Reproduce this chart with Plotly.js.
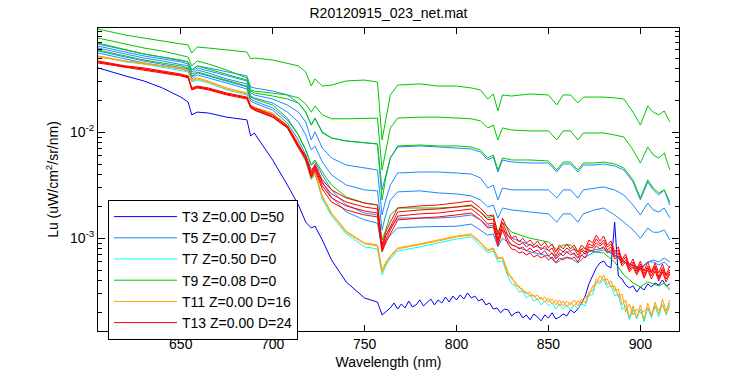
<!DOCTYPE html>
<html><head><meta charset="utf-8">
<script src="https://cdn.plot.ly/plotly-3.0.1.min.js"></script>
<style>html,body{margin:0;padding:0;background:#fff}#chart{width:750px;height:375px}</style>
</head><body><div id="chart"></div>
<script>
// Wavelength grids (nm)
const wavelength = [605,612,620,630,640,650,654,656,659,665,675,686,688,690,700,708,714,718,721,723,727,732,740,750,757,759.5,761.5,764,768,780,790,800,808,813,817,820,822.5,825,830,840,850,854.5,858,862,866,869,875,880,886,891,896,900,904,907,910,913,916];
const wavelengthNoisy = [605,612,620,630,640,650,654,656,659,665,675,686,688,690,700,708,714,718,721,723,727,732,740,750,757,759.5,761.5,764,768,780,790,800,808,813,817,820,822.5,825,828,830,832,834,836,838,840,842,844,846,848,850,852,854,856,858,860,862,864,866,868,870,872,874,876,878,880,882,884,886,888,890,892,894,896,898,900,902,904,906,908,910,912,914,916];
const wavelengthT3 = [605,612,620,630,640,650,654,656,659,665,675,686,688,690,700,708,714,718,721,723,727,732,740,750,757,759.5,761.5,764,766,768,770,772,774,776,778,780,782,784,786,788,790,792,794,796,798,800,802,804,806,808,810,812,814,816,818,820,822,824,826,828,830,832,834,836,838,840,842,844,846,848,850,852,854,856,858,860,862,864,866,868,870,872,874,876,878,880,882,884,886,888,890,892,894,896,898,900,902,904,906,908,910,912,914,916];

// T3 (dark blue)
const t3_a = [0.0405,0.0371,0.0340,0.0305,0.0262,0.0215,0.0193,0.0146,0.0155,0.0152,0.0139,0.0131,0.00923,0.00985,0.00548,0.00318,0.00206,0.00142,0.00125,0.00130,0.000964,0.000624,0.000387,0.000273,0.000250,0.000189,0.000202,0.000220,
0.000245,0.000215,0.000240,0.000220,0.000256,0.000225,0.000235,0.000262,0.000230,0.000250,0.000267,0.000235,0.000262,0.000245,0.000279,0.000250,0.000285,0.000262,0.000292,0.000267,0.000305,0.000273,0.000285,0.000256,0.000267,0.000235,0.000245,0.000215,0.000220,0.000198,0.000215,
0.000211,0.000185,0.000198,0.000202,0.000177,0.000189,0.000170,0.000193,0.000181,0.000166,0.000189,0.000177,0.000198,0.000173,0.000181,0.000193,0.000185,0.000211,0.000198,0.000215,0.000245,0.000285,0.000371,0.000441,0.000525,0.000585,0.000610,0.000548,0.000525,0.00142,0.000441,0.000413,0.000362,0.000340,0.000355,0.000311,0.000347,0.000325,0.000371,0.000347,0.000379,0.000362,0.000404,0.000355,0.000371];

// T5 (light blue)
const t5_a = [0.0680,0.0637,0.0598,0.0548,0.0513,0.0481,0.0461,0.0387,0.0423,0.0405,0.0371,0.0340,0.0268,0.0262,0.0245,0.0225,0.0189,0.0155,0.0117,0.0136,0.0101,0.00884,0.00828,0.00793,0.00776,0.00286,0.00396,0.00572,0.00727,0.00743,0.00727,0.00711,0.00696,0.00652,0.00548,0.00585,0.00422,0.00548,0.00524,0.00513,0.00513,0.00422,0.00502,0.00502,0.00422,0.00491,0.00491,0.00502,0.00481,0.00441,0.00340,0.00230,0.00340,0.00286,0.00256,0.00286,0.00206];
const t5_b = [0.0651,0.0610,0.0572,0.0525,0.0492,0.0461,0.0441,0.0371,0.0405,0.0379,0.0340,0.0305,0.0235,0.0225,0.0206,0.0181,0.0155,0.0125,0.00846,0.0101,0.00711,0.00572,0.00491,0.00460,0.00441,0.00166,0.00230,0.00318,0.00413,0.00422,0.00422,0.00413,0.00404,0.00371,0.00298,0.00318,0.00230,0.00298,0.00286,0.00286,0.00286,0.00240,0.00286,0.00286,0.00240,0.00286,0.00298,0.00305,0.00286,0.00256,0.00206,0.00166,0.00215,0.00185,0.00177,0.00193,0.00155];
const t5_c = [0.0624,0.0585,0.0548,0.0502,0.0471,0.0441,0.0423,0.0355,0.0387,0.0363,0.0319,0.0286,0.0220,0.0211,0.0189,0.0155,0.0125,0.00943,0.00681,0.00743,0.00524,0.00396,0.00318,0.00286,0.00280,0.00120,0.00166,0.00230,0.00274,0.00280,0.00268,0.00262,0.00251,0.00230,0.00197,0.00206,0.00155,0.00193,0.00185,0.00177,0.00170,0.00142,0.00170,0.00170,0.00142,0.00170,0.00185,0.00193,0.00166,0.00142,0.00120,0.00100,0.00125,0.00114,0.00114,0.00120,0.000964];
const t5_d = [0.0585,0.0548,0.0513,0.0471,0.0441,0.0413,0.0396,0.0333,0.0363,0.0340,0.0305,0.0268,0.0206,0.0197,0.0170,0.0131,0.00943,0.00681,0.00491,0.00524,0.00396,0.00286,0.00206,0.00173,0.00166,0.000865,0.00107,0.00125,0.00155,0.00155,0.00155,0.00159,0.00166,0.00149,0.00130,0.00133,0.000964,0.00120,0.00100,0.000865,0.000776,0.000652,0.000743,0.000743,0.000652,0.000711,0.000776,0.000811,0.000696,0.000597,0.000560,0.000502,0.000597,0.000597,0.000560,0.000597,0.000525];
const t5_e = [0.0560,0.0525,0.0492,0.0451,0.0423,0.0396,0.0379,0.0319,0.0347,0.0326,0.0292,0.0256,0.0197,0.0189,0.0162,0.0122,0.00846,0.00611,0.00441,0.00470,0.00340,0.00245,0.00177,0.00149,0.00139,0.000776,0.000964,0.00107,0.00125,0.00128,0.00128,0.00130,0.00136,0.00120,0.00107,0.00110,0.000829,0.00100,0.000865,0.000743,0.000681,0.000585,0.000652,0.000652,0.000585,0.000652,0.000743,0.000776,0.000696,0.000597,0.000560,0.000525,0.000597,0.000624,0.000597,0.000652,0.000597];

// T7 (cyan)
const t7_a = [0.0525,0.0492,0.0461,0.0441,0.0413,0.0387,0.0371,0.0298,0.0311,0.0292,0.0251,0.0225,0.0173,0.0166,0.0146,0.0112,0.00743,0.00524,0.00355,0.00404,0.00235,0.00162,0.00110,0.000829,0.000793,0.000451,0.000548,0.000638,0.000760,0.000829,0.000903,0.000985,0.00103,0.000847,0.000727,0.000760,0.000597,0.000610,
0.000432,0.000371,0.000355,0.000311,0.000318,0.000273,0.000292,0.000256,0.000267,0.000235,0.000256,0.000230,0.000245,0.000215,0.000240,0.000215,0.000235,0.000211,0.000235,0.000215,0.000240,0.000230,0.000292,0.000292,0.000387,0.000371,0.000413,0.000340,0.000362,0.000285,0.000298,0.000211,0.000235,0.000170,0.000215,0.000173,0.000215,0.000162,0.000220,0.000177,0.000230,0.000181,0.000240,0.000189,0.000245];

// T9 (green)
const t9_a = [0.0942,0.0883,0.0827,0.0775,0.0726,0.0680,0.0666,0.0560,0.0637,0.0624,0.0598,0.0572,0.0492,0.0502,0.0481,0.0451,0.0423,0.0371,0.0273,0.0319,0.0273,0.0279,0.0305,0.0311,0.0298,0.00846,0.0131,0.0225,0.0279,0.0286,0.0273,0.0273,0.0262,0.0251,0.0206,0.0230,0.0159,0.0225,0.0220,0.0230,0.0225,0.0181,0.0225,0.0225,0.0189,0.0215,0.0215,0.0215,0.0211,0.0206,0.0155,0.0117,0.0177,0.0155,0.0146,0.0159,0.0125];
const t9_b = [0.0775,0.0726,0.0680,0.0624,0.0585,0.0536,0.0513,0.0423,0.0471,0.0441,0.0387,0.0326,0.0251,0.0245,0.0235,0.0225,0.0211,0.0185,0.0155,0.0177,0.0146,0.0134,0.0134,0.0136,0.0136,0.00441,0.00681,0.0110,0.0136,0.0139,0.0139,0.0136,0.0134,0.0128,0.0110,0.0117,0.00846,0.0110,0.0105,0.0103,0.0103,0.00846,0.0103,0.0103,0.00846,0.00985,0.00985,0.00985,0.00943,0.00903,0.00681,0.00513,0.00727,0.00611,0.00572,0.00638,0.00441];
const t9_c = [0.0695,0.0651,0.0598,0.0548,0.0513,0.0481,0.0461,0.0387,0.0423,0.0396,0.0355,0.0311,0.0245,0.0235,0.0220,0.0206,0.0189,0.0155,0.0117,0.0136,0.00985,0.00884,0.00828,0.00793,0.00776,0.00230,0.00371,0.00572,0.00743,0.00759,0.00743,0.00743,0.00727,0.00681,0.00572,0.00611,0.00441,0.00572,0.00548,0.00548,0.00536,0.00441,0.00524,0.00524,0.00441,0.00513,0.00513,0.00524,0.00502,0.00460,0.00355,0.00240,0.00355,0.00298,0.00268,0.00286,0.00220];
const t9_d = [0.0598,0.0560,0.0525,0.0481,0.0451,0.0423,0.0405,0.0340,0.0371,0.0347,0.0311,0.0273,0.0215,0.0206,0.0181,0.0136,0.00943,0.00681,0.00491,0.00548,0.00422,0.00318,0.00245,0.00215,0.00206,0.000964,0.00120,0.00166,0.00193,0.00193,0.00193,0.00197,0.00202,0.00177,0.00155,0.00162,0.00114,0.00142,0.00114,0.00100,0.000923,0.000776,0.000865,0.000865,0.000743,0.000811,0.000743,0.000727,0.000597,0.000451,0.000379,0.000347,0.000387,0.000371,0.000355,0.000379,0.000325];

// T11 (orange)
const t11_a = [0.0525,0.0502,0.0471,0.0451,0.0423,0.0405,0.0387,0.0311,0.0326,0.0305,0.0262,0.0235,0.0181,0.0173,0.0152,0.0117,0.00793,0.00548,0.00371,0.00422,0.00251,0.00173,0.00117,0.000903,0.000865,0.000502,0.000597,0.000681,0.000811,0.000884,0.000964,0.00105,0.00110,0.000923,0.000776,0.000811,0.000652,0.000666,
0.000481,0.000413,0.000387,0.000340,0.000332,0.000298,0.000311,0.000279,0.000292,0.000262,0.000279,0.000250,0.000267,0.000235,0.000262,0.000230,0.000256,0.000235,0.000262,0.000230,0.000267,0.000245,0.000311,0.000318,0.000413,0.000387,0.000451,0.000362,0.000396,0.000318,0.000332,0.000235,0.000262,0.000177,0.000230,0.000177,0.000235,0.000170,0.000245,0.000185,0.000250,0.000193,0.000267,0.000206,0.000262];
const t11_b = [0.0513,0.0492,0.0471,0.0441,0.0423,0.0396,0.0379,0.0305,0.0319,0.0298,0.0256,0.0230,0.0177,0.0170,0.0149,0.0115,0.00776,0.00536,0.00363,0.00413,0.00245,0.00170,0.00114,0.000884,0.000847,0.000481,0.000572,0.000666,0.000793,0.000865,0.000943,0.00103,0.00107,0.000903,0.000760,0.000793,0.000638,0.000652,
0.000451,0.000432,0.000362,0.000355,0.000311,0.000311,0.000285,0.000292,0.000262,0.000279,0.000250,0.000273,0.000240,0.000262,0.000230,0.000256,0.000225,0.000250,0.000230,0.000256,0.000240,0.000279,0.000285,0.000355,0.000371,0.000441,0.000404,0.000413,0.000347,0.000355,0.000279,0.000298,0.000202,0.000240,0.000189,0.000215,0.000198,0.000206,0.000220,0.000189,0.000230,0.000211,0.000235,0.000193,0.000230];

// T13 (red)
const t13_a = [0.0471,0.0451,0.0423,0.0405,0.0379,0.0355,0.0340,0.0262,0.0273,0.0262,0.0235,0.0215,0.0177,0.0170,0.0146,0.0115,0.00759,0.00598,0.00422,0.00502,0.00355,0.00286,0.00240,0.00215,0.00206,0.000865,0.00114,0.00142,0.00193,0.00202,0.00206,0.00215,0.00225,0.00193,0.00162,0.00166,0.00107,0.00155,
0.00120,0.00100,0.00105,0.000923,0.00100,0.000903,0.000964,0.000865,0.000943,0.000847,0.000923,0.000811,0.000884,0.000743,0.000865,0.000793,0.000884,0.000793,0.000865,0.000743,0.000865,0.000793,0.000964,0.000903,0.00107,0.000943,0.00105,0.000865,0.000943,0.000743,0.000829,0.000624,0.000711,0.000548,0.000638,0.000513,0.000610,0.000491,0.000597,0.000481,0.000585,0.000471,0.000572,0.000451,0.000548];
const t13_b = [0.0461,0.0441,0.0423,0.0396,0.0371,0.0347,0.0333,0.0256,0.0268,0.0256,0.0230,0.0211,0.0173,0.0166,0.0142,0.0112,0.00743,0.00585,0.00404,0.00481,0.00333,0.00262,0.00220,0.00197,0.00189,0.000811,0.00105,0.00130,0.00177,0.00185,0.00189,0.00197,0.00206,0.00177,0.00149,0.00152,0.000964,0.00142,
0.00105,0.000964,0.000903,0.000865,0.000903,0.000829,0.000884,0.000811,0.000865,0.000776,0.000847,0.000760,0.000811,0.000681,0.000793,0.000743,0.000811,0.000760,0.000793,0.000696,0.000793,0.000743,0.000884,0.000847,0.000985,0.000884,0.000964,0.000829,0.000884,0.000711,0.000776,0.000597,0.000666,0.000525,0.000597,0.000491,0.000572,0.000461,0.000548,0.000471,0.000548,0.000432,0.000525,0.000441,0.000502];
const t13_c = [0.0451,0.0432,0.0413,0.0387,0.0363,0.0340,0.0326,0.0251,0.0262,0.0251,0.0225,0.0206,0.0170,0.0162,0.0139,0.0110,0.00727,0.00572,0.00387,0.00460,0.00312,0.00240,0.00202,0.00181,0.00173,0.000776,0.000964,0.00120,0.00162,0.00170,0.00173,0.00181,0.00189,0.00162,0.00136,0.00139,0.000903,0.00130,
0.000964,0.000865,0.000847,0.000793,0.000829,0.000760,0.000811,0.000743,0.000776,0.000711,0.000760,0.000681,0.000727,0.000638,0.000727,0.000681,0.000743,0.000696,0.000727,0.000652,0.000760,0.000711,0.000829,0.000811,0.000903,0.000847,0.000903,0.000776,0.000829,0.000666,0.000727,0.000572,0.000624,0.000502,0.000560,0.000471,0.000548,0.000432,0.000525,0.000441,0.000525,0.000413,0.000502,0.000413,0.000481];
const t13_d = [0.0461,0.0441,0.0413,0.0396,0.0371,0.0347,0.0333,0.0256,0.0268,0.0256,0.0230,0.0211,0.0173,0.0162,0.0139,0.0110,0.00711,0.00548,0.00371,0.00441,0.00292,0.00220,0.00185,0.00166,0.00159,0.000743,0.000903,0.00110,0.00149,0.00155,0.00159,0.00166,0.00173,0.00149,0.00125,0.00128,0.000847,0.00120,
0.000884,0.000793,0.000776,0.000727,0.000743,0.000696,0.000727,0.000666,0.000696,0.000652,0.000681,0.000624,0.000666,0.000585,0.000652,0.000624,0.000666,0.000638,0.000666,0.000597,0.000696,0.000652,0.000776,0.000760,0.000847,0.000793,0.000829,0.000727,0.000776,0.000638,0.000681,0.000548,0.000597,0.000481,0.000536,0.000451,0.000525,0.000422,0.000502,0.000413,0.000491,0.000396,0.000481,0.000387,0.000461];

const groups = [
  {name:'T3 Z=0.00 D=50', color:'#0000ff', x:wavelengthT3, series:[t3_a]},
  {name:'T5 Z=0.00 D=7',  color:'#1e88ff', x:wavelength, series:[t5_a,t5_b,t5_c,t5_d,t5_e]},
  {name:'T7 Z=0.50 D=0',  color:'#00ffff', x:wavelengthNoisy, series:[t7_a]},
  {name:'T9 Z=0.08 D=0',  color:'#00c800', x:wavelength, series:[t9_a,t9_b,t9_c,t9_d]},
  {name:'T11 Z=0.00 D=16',color:'#ffa000', x:wavelengthNoisy, series:[t11_a,t11_b]},
  {name:'T13 Z=0.00 D=24',color:'#ff0000', x:wavelengthNoisy, series:[t13_a,t13_b,t13_c,t13_d]}
];

const traces = [];
groups.forEach(g => g.series.forEach((s,i) => traces.push({
  x:g.x, y:s, type:'scatter', mode:'lines', name:g.name, showlegend:i===0,
  line:{color:g.color, width:1}
})));

const FONT = 'Liberation Sans, Arial, Helvetica, sans-serif';
const minorVals = [2e-4,3e-4,4e-4,5e-4,6e-4,7e-4,8e-4,9e-4,2e-3,3e-3,4e-3,5e-3,6e-3,7e-3,8e-3,9e-3,2e-2,3e-2,4e-2,5e-2,6e-2,7e-2,8e-2,9e-2];

const layout = {
  width:750, height:375,
  paper_bgcolor:'#ffffff', plot_bgcolor:'#ffffff',
  margin:{l:98, r:71, t:28, b:44, pad:0},
  font:{family:FONT, size:14, color:'#000'},
  showlegend:true,
  title:{text:'R20120915_023_net.mat', font:{family:FONT,size:14,color:'#000'}, x:0.5, xref:'paper', xanchor:'center', y:1-13/375, yref:'container', yanchor:'middle'},
  xaxis:{
    range:[605,921], showgrid:false, zeroline:false, showline:true, linecolor:'#000', linewidth:1,
    mirror:'ticks', ticks:'inside', ticklen:6, tickcolor:'#000',
    tickvals:[650,700,750,800,850,900], tickfont:{size:14},
    title:{text:'Wavelength (nm)', font:{size:14}, standoff:6}
  },
  yaxis:{
    type:'log', range:[-3.875,-1.016], showgrid:false, zeroline:false, showline:true, linecolor:'#000', linewidth:1,
    mirror:'ticks', ticks:'inside', ticklen:7, tickcolor:'#000',
    tickvals:[1e-3,1e-2], ticktext:['10<sup>-3</sup>','10<sup>-2</sup>'], tickfont:{size:14},
    minor:{tickmode:'array', tickvals:minorVals, ticks:'inside', ticklen:4, tickcolor:'#000', showgrid:false},
    title:{text:'Lu (uW/cm<sup>2</sup>/sr/nm)', font:{size:14}, standoff:8}
  },
  legend:{
    x:(108-98)/581, y:(331-200)/303, xanchor:'left', yanchor:'top',
    bgcolor:'#ffffff', bordercolor:'#000', borderwidth:1,
    font:{family:FONT, size:14, color:'#000'}, itemwidth:63, tracegroupgap:0
  }
};

Plotly.newPlot('chart', traces, layout, {staticPlot:true, displayModeBar:false});
</script>
</body></html>
